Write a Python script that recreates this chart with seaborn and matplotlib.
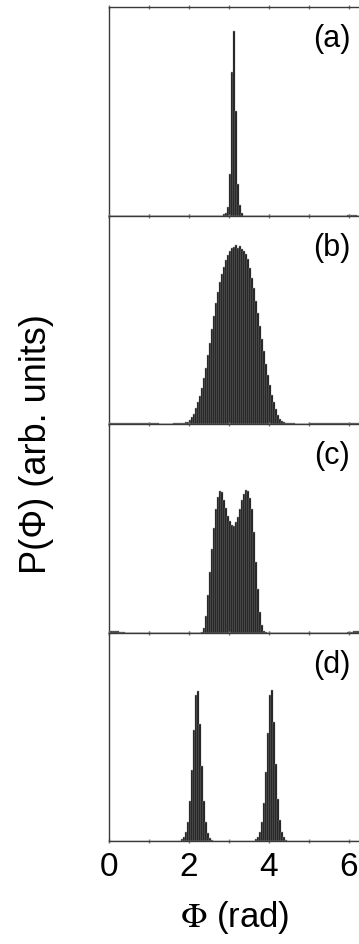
import numpy as np
import pandas as pd
import matplotlib
matplotlib.use("Agg")
import matplotlib.pyplot as plt
import seaborn as sns

# ---------------- data ----------------
bin_width = 0.05
phi_max = 2 * np.pi

panel_labels = ["(a)", "(b)", "(c)", "(d)"]
major_ticks = [0, 2, 4, 6]
minor_ticks = [1, 3, 5]
tick_labels = ["0", "2", "4", "6"]

# each segment: (phi at left edge of first bin, bin heights in fraction of panel height)
a_main_start = 2.85
a_main = [0.005, 0.01, 0.04, 0.20, 0.69, 0.885, 0.50, 0.15, 0.05, 0.01]
a_tail_start = 5.95
a_tail = [0.004, 0.004, 0.004, 0.004, 0.004]

b_left_start = 0.0
b_left = [0.004] * 25
b_main_start = 1.6
b_main = [0.003, 0.003, 0.004, 0.005, 0.006, 0.007, 0.008, 0.010,
          0.02, 0.035, 0.05, 0.075, 0.105, 0.136, 0.175, 0.22, 0.27, 0.33,
          0.39, 0.455, 0.52, 0.58, 0.635, 0.68, 0.72, 0.755, 0.785, 0.81,
          0.83, 0.845, 0.85, 0.86, 0.845, 0.855, 0.84, 0.83, 0.815, 0.79,
          0.75, 0.70, 0.65, 0.59, 0.53, 0.47, 0.41, 0.35, 0.29, 0.235,
          0.185, 0.14, 0.105, 0.07, 0.045, 0.025, 0.015, 0.01, 0.006, 0.005,
          0.004, 0.003, 0.003]
b_right_start = 5.0
b_right = [0.004] * 26

c_left_start = 0.0
c_left = [0.008, 0.008, 0.007, 0.006, 0.005, 0.003, 0.002, 0.001]
c_main_start = 2.3
c_main = [0.003, 0.02, 0.08, 0.18, 0.29, 0.40, 0.50, 0.59, 0.65, 0.68,
          0.675, 0.635, 0.595, 0.56, 0.535, 0.515, 0.512, 0.53, 0.555, 0.59,
          0.635, 0.665, 0.685, 0.68, 0.645, 0.59, 0.48, 0.34, 0.21, 0.10,
          0.035, 0.008, 0.002]
c_right_start = 5.95
c_right = [0.001, 0.002, 0.003, 0.005, 0.006, 0.007, 0.008]

d_peak1_start = 1.75
d_peak1 = [0.002, 0.008, 0.02, 0.045, 0.09, 0.19, 0.34, 0.53, 0.70, 0.72,
           0.56, 0.36, 0.19, 0.09, 0.04, 0.016, 0.005, 0.001]
d_peak2_start = 3.6
d_peak2 = [0.002, 0.008, 0.02, 0.045, 0.09, 0.18, 0.33, 0.52, 0.70, 0.725,
           0.57, 0.37, 0.20, 0.10, 0.045, 0.018, 0.006, 0.002]

panels = [
    [(a_main_start, a_main), (a_tail_start, a_tail)],
    [(b_left_start, b_left), (b_main_start, b_main), (b_right_start, b_right)],
    [(c_left_start, c_left), (c_main_start, c_main), (c_right_start, c_right)],
    [(d_peak1_start, d_peak1), (d_peak2_start, d_peak2)],
]

# ---------------- build histogram weights ----------------
n_bins = int(round(6.3 / bin_width))
edges = [round(i * bin_width, 6) for i in range(n_bins + 1)]
centers = [e + bin_width / 2 for e in edges[:-1]]


def build(segments):
    w = np.zeros(n_bins)
    for start, vals in segments:
        i0 = int(round(start / bin_width))
        w[i0:i0 + len(vals)] = vals
    return w


# ---------------- style ----------------
sns.set_style("white")
plt.rcParams["font.family"] = ["Liberation Sans", "DejaVu Sans"]
plt.rcParams["mathtext.fontset"] = "stix"
plt.rcParams["text.color"] = "black"
plt.rcParams["axes.labelcolor"] = "black"
plt.rcParams["xtick.labelcolor"] = "black"

W, H = 359, 945
fig, axes = plt.subplots(4, 1, figsize=(W / 100, H / 100), dpi=100, sharex=True)
fig.subplots_adjust(left=109 / W, right=(109 + phi_max * 40) / W,
                    top=1 - 8 / H, bottom=1 - 842 / H, hspace=0)

spine_col = "#3a3a3a"
for ax, segs, lab in zip(axes, panels, panel_labels):
    df = pd.DataFrame({"phi": centers, "p": build(segs)})
    sns.histplot(data=df, x="phi", weights="p", bins=edges, ax=ax,
                 color="black", edgecolor="#a8a8a8", linewidth=0.35,
                 alpha=1.0, legend=False)
    ax.set_xlim(0, phi_max)
    ax.set_ylim(0, 1)
    ax.set_ylabel("")
    ax.set_xlabel("")
    ax.set_yticks([])
    ax.set_xticks(major_ticks)
    ax.set_xticks(minor_ticks, minor=True)
    ax.tick_params(axis="x", which="both", direction="inout", length=3,
                   width=1, color="#777777", top=True, bottom=True,
                   labelbottom=False, labelsize=24, pad=6,
                   labelcolor="black")
    for s in ax.spines.values():
        s.set_color(spine_col)
        s.set_linewidth(1.0)
    ax.text(0.96, 0.85, lab, transform=ax.transAxes, ha="right", va="center",
            fontsize=22, color="black")

axes[-1].set_xticklabels(tick_labels)
axes[-1].tick_params(axis="x", labelbottom=True)
axes[-1].set_xlabel(r"$\Phi$ (rad)", fontsize=25, labelpad=11, color="black")

fig.text(37 / W, 1 - 444 / H, "P(Φ) (arb. units)", rotation=90,
         ha="center", va="center", fontsize=26, color="black")

fig.savefig("out.png", dpi=100)
